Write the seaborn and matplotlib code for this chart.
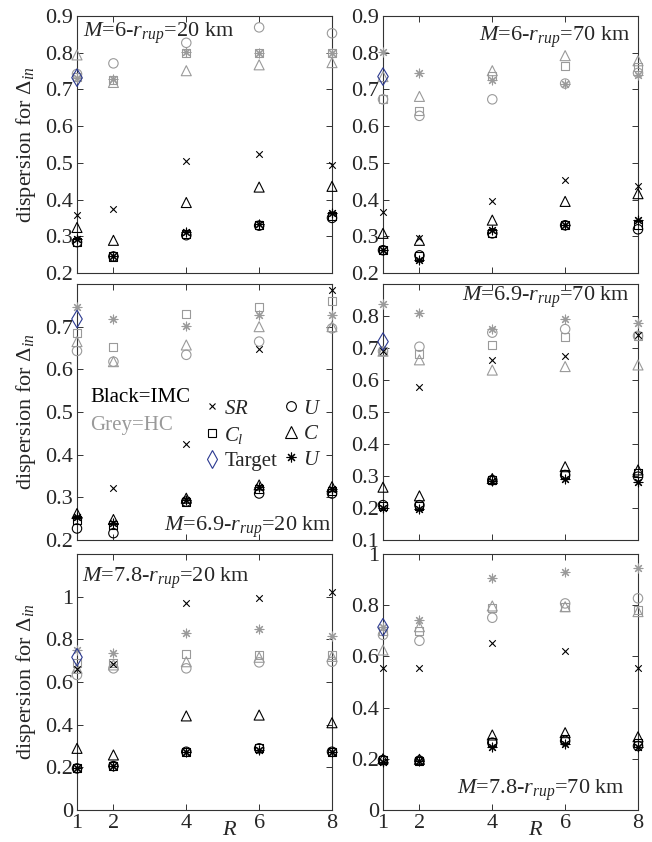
import matplotlib
matplotlib.use("Agg")
import matplotlib.pyplot as plt
from matplotlib.lines import Line2D
from matplotlib.markers import MarkerStyle
from matplotlib.ticker import FormatStrFormatter
import seaborn as sns

# ---------------------------------------------------------------------------
# data (one row per panel, panels: M6-20, M6-70, M6.9-20, M6.9-70, M7.8-20, M7.8-70)
# ---------------------------------------------------------------------------
R = [1, 2, 4, 6, 8]

panel_titles = [r"$M$=6-$r_{rup}$=20 km", r"$M$=6-$r_{rup}$=70 km",
                r"$M$=6.9-$r_{rup}$=20 km", r"$M$=6.9-$r_{rup}$=70 km",
                r"$M$=7.8-$r_{rup}$=20 km", r"$M$=7.8-$r_{rup}$=70 km"]

# black = IMC
imc_sr = [[0.359, 0.375, 0.505, 0.524, 0.493],
          [0.366, 0.294, 0.395, 0.452, 0.437],
          [0.255, 0.321, 0.425, 0.647, 0.786],
          [0.690, 0.577, 0.663, 0.675, 0.740],
          [0.660, 0.684, 0.972, 0.992, 1.020],
          [0.553, 0.553, 0.654, 0.622, 0.553]]
imc_cl = [[0.285, 0.245, 0.305, 0.330, 0.355],
          [0.262, 0.245, 0.310, 0.330, 0.330],
          [0.247, 0.235, 0.290, 0.319, 0.315],
          [0.205, 0.205, 0.288, 0.305, 0.308],
          [0.195, 0.206, 0.273, 0.289, 0.273],
          [0.195, 0.193, 0.267, 0.276, 0.260]]
imc_u = [[0.284, 0.245, 0.303, 0.329, 0.350],
         [0.262, 0.248, 0.308, 0.330, 0.319],
         [0.227, 0.216, 0.290, 0.309, 0.309],
         [0.209, 0.209, 0.287, 0.303, 0.298],
         [0.195, 0.206, 0.273, 0.289, 0.273],
         [0.195, 0.193, 0.263, 0.270, 0.250]]
imc_c = [[0.324, 0.289, 0.392, 0.434, 0.436],
         [0.308, 0.289, 0.344, 0.395, 0.416],
         [0.262, 0.248, 0.298, 0.329, 0.325],
         [0.265, 0.238, 0.292, 0.329, 0.319],
         [0.289, 0.258, 0.441, 0.445, 0.409],
         [0.200, 0.198, 0.293, 0.302, 0.286]]
imc_us = [[0.293, 0.245, 0.312, 0.334, 0.363],
          [0.262, 0.236, 0.317, 0.330, 0.344],
          [0.255, 0.241, 0.294, 0.325, 0.320],
          [0.199, 0.196, 0.283, 0.290, 0.282],
          [0.195, 0.206, 0.273, 0.281, 0.273],
          [0.188, 0.190, 0.247, 0.258, 0.247]]

# grey = HC
hc_cl = [[0.735, 0.725, 0.800, 0.800, 0.800],
         [0.673, 0.641, 0.737, 0.765, 0.760],
         [0.686, 0.653, 0.729, 0.747, 0.761],
         [0.690, 0.681, 0.709, 0.735, 0.738],
         [0.690, 0.688, 0.730, 0.727, 0.727],
         [0.700, 0.700, 0.790, 0.794, 0.780]]
hc_u = [[0.742, 0.771, 0.827, 0.869, 0.853],
        [0.673, 0.628, 0.673, 0.716, 0.745],
        [0.643, 0.618, 0.634, 0.665, 0.696],
        [0.690, 0.704, 0.748, 0.759, 0.738],
        [0.633, 0.664, 0.664, 0.692, 0.695],
        [0.684, 0.661, 0.751, 0.807, 0.827]]
hc_c = [[0.794, 0.719, 0.751, 0.767, 0.773],
        [0.735, 0.681, 0.751, 0.792, 0.778],
        [0.665, 0.618, 0.657, 0.700, 0.700],
        [0.690, 0.663, 0.631, 0.642, 0.647],
        [0.664, 0.680, 0.695, 0.716, 0.720],
        [0.625, 0.716, 0.797, 0.794, 0.775]]
hc_us = [[0.732, 0.728, 0.801, 0.800, 0.800],
         [0.803, 0.746, 0.726, 0.716, 0.739],
         [0.747, 0.718, 0.702, 0.727, 0.727],
         [0.838, 0.808, 0.758, 0.790, 0.777],
         [0.750, 0.738, 0.831, 0.847, 0.816],
         [0.714, 0.742, 0.905, 0.931, 0.944]]

target = [0.732, 0.735, 0.718, 0.720, 0.716, 0.714]

y_limits = [(0.2, 0.9), (0.2, 0.9), (0.2, 0.8), (0.1, 0.9), (0, 1.2), (0, 1.0)]
y_ticks = [[0.2, 0.3, 0.4, 0.5, 0.6, 0.7, 0.8, 0.9],
           [0.2, 0.3, 0.4, 0.5, 0.6, 0.7, 0.8, 0.9],
           [0.2, 0.3, 0.4, 0.5, 0.6, 0.7],
           [0.1, 0.2, 0.3, 0.4, 0.5, 0.6, 0.7, 0.8],
           [0, 0.2, 0.4, 0.6, 0.8, 1.0],
           [0, 0.2, 0.4, 0.6, 0.8, 1.0]]

# ---------------------------------------------------------------------------
# style
# ---------------------------------------------------------------------------
sns.set_theme(style="ticks")
plt.rcParams['font.family'] = ['Liberation Serif', 'DejaVu Serif']
plt.rcParams['mathtext.fontset'] = 'custom'
plt.rcParams['mathtext.rm'] = 'Liberation Serif'
plt.rcParams['mathtext.it'] = 'Liberation Serif:italic'
plt.rcParams['mathtext.bf'] = 'Liberation Serif:bold'

BLACK = "#000000"
GREY = "#9a9a9a"
BLUE = "#2b3990"
AST = (8, 2, 0)   # matlab style asterisk

SIZES = {"x": 22, "s": 34, "o": 46, "^": 52, AST: 40, "d": 80}


def draw(ax, y, marker, color, z):
    s = SIZES[marker]
    x = R[:len(y)]
    if MarkerStyle(marker).is_filled():
        sns.scatterplot(x=x, y=y, marker=marker, s=s, facecolor="none",
                        edgecolor=color, linewidth=0.8, ax=ax,
                        clip_on=False, zorder=z)
    else:
        sns.scatterplot(x=x, y=y, marker=marker, s=s, color=color,
                        linewidth=0.8, ax=ax, clip_on=False, zorder=z)


fig = plt.figure(figsize=(6.52, 8.42), dpi=100)

W = 255 / 652
H = 256 / 842
lefts = [77 / 652, 383 / 652]
bottoms = [1 - 273 / 842, 1 - 540 / 842, 1 - 810 / 842]

axes = []
for i in range(6):
    row, col = divmod(i, 2)
    h = 257 / 842 if row == 0 else H
    ax = fig.add_axes([lefts[col], bottoms[row], W, h])
    axes.append(ax)

    # grey (HC)
    draw(ax, hc_cl[i], "s", GREY, 3)
    draw(ax, hc_u[i], "o", GREY, 3)
    draw(ax, hc_c[i], "^", GREY, 3)
    draw(ax, hc_us[i], AST, GREY, 3)
    # black (IMC)
    draw(ax, imc_sr[i], "x", BLACK, 4)
    draw(ax, imc_cl[i], "s", BLACK, 4)
    draw(ax, imc_u[i], "o", BLACK, 4)
    draw(ax, imc_c[i], "^", BLACK, 4)
    draw(ax, imc_us[i], AST, BLACK, 4)
    # target
    draw(ax, [target[i]], "d", BLUE, 5)

    ax.set_xlim(1, 8)
    ax.set_ylim(*y_limits[i])
    ax.set_xticks(R)
    ax.set_yticks(y_ticks[i])
    ax.yaxis.set_major_formatter(FormatStrFormatter("%g"))
    ax.tick_params(direction="in", top=True, right=True, length=4,
                   width=0.7, color="#333333", labelsize=16, pad=3)
    if row < 2:
        ax.set_xticklabels([])
    for sp in ax.spines.values():
        sp.set_linewidth(0.8)
        sp.set_color("#333333")
    ax.set_xlabel("")
    ax.set_ylabel("")
    if col == 0:
        ax.set_ylabel("dispersion for $\\mathit{\u0394}_{in}$", fontsize=16)
        ax.yaxis.set_label_coords(-0.153, 0.5)
    if row == 2:
        ax.text(0.596, -0.082, "R", style="italic", fontsize=16,
                ha="center", va="center", transform=ax.transAxes)

# panel annotations
title_pos = [(0.024, 0.934, "left"), (0.969, 0.918, "right"),
             (0.998, 0.05, "right"), (0.969, 0.95, "right"),
             (0.02, 0.906, "left"), (0.949, 0.078, "right")]
for ax, t, (tx, ty, ha) in zip(axes, panel_titles, title_pos):
    ax.text(tx, ty, t, fontsize=16, ha=ha, va="center",
            transform=ax.transAxes, zorder=6)

# legend in middle-left panel
ax = axes[2]
ax.text(0.051, 0.555, "Black=IMC", color=BLACK, fontsize=15,
        ha="left", va="center", transform=ax.transAxes)
ax.text(0.051, 0.449, "Grey=HC", color=GREY, fontsize=15,
        ha="left", va="center", transform=ax.transAxes)

handles = [
    Line2D([], [], ls="none", marker="x", ms=5, mew=0.8, color=BLACK),
    Line2D([], [], ls="none", marker="s", ms=6, mew=0.8, mfc="none", mec=BLACK),
    Line2D([], [], ls="none", marker="d", ms=9, mew=0.8, mfc="none", mec=BLUE),
    Line2D([], [], ls="none", marker="o", ms=7, mew=0.8, mfc="none", mec=BLACK),
    Line2D([], [], ls="none", marker="^", ms=8, mew=0.8, mfc="none", mec=BLACK),
    Line2D([], [], ls="none", marker=AST, ms=7, mew=0.8, color=BLACK),
]
labels = [r"$SR$", r"$C_l$", "Target", r"$U$", r"$C$", r"$U$"]
ax.legend(handles, labels, ncol=2, loc="upper left",
          bbox_to_anchor=(0.5, 0.55), frameon=False, fontsize=15,
          borderpad=0, borderaxespad=0, handlelength=0.7,
          handletextpad=0.25, columnspacing=0.3, labelspacing=0.28)

fig.savefig("out.png", dpi=100, facecolor="white")
